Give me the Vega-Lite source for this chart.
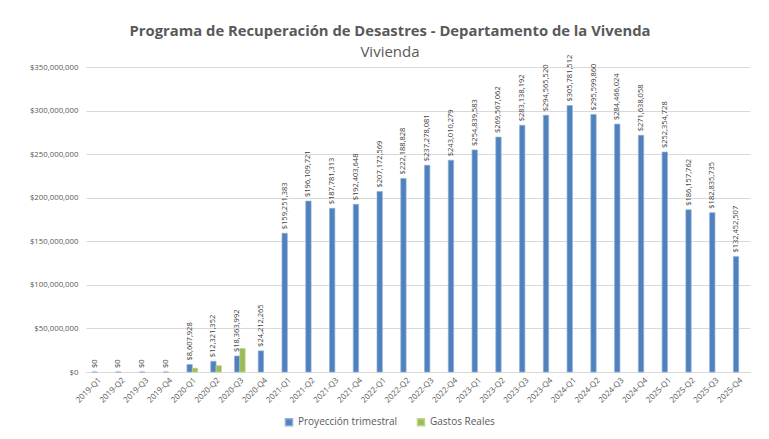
{
  "$schema": "https://vega.github.io/schema/vega-lite/v6.json",
  "width": 664,
  "height": 305,
  "autosize": {"type": "none"},
  "padding": {"left": 86, "top": 67, "right": 19, "bottom": 67},
  "background": "white",
  "title": {
    "text": "Programa de Recuperación de Desastres - Departamento de la Vivenda",
    "subtitle": "Vivienda",
    "anchor": "middle",
    "frame": "group",
    "dx": -28,
    "offset": -5,
    "font": "Open Sans",
    "fontSize": 14.8,
    "fontWeight": "bold",
    "color": "#595959",
    "subtitleFont": "Open Sans",
    "subtitleFontSize": 15,
    "subtitleColor": "#595959",
    "subtitlePadding": 6
  },
  "config": {
    "font": "Open Sans",
    "view": {"stroke": null},
    "axis": {"labelColor": "#595959", "labelFont": "Open Sans"}
  },
  "datasets": {
    "d": [
      {"q": "2019-Q1", "serie": "Proyección trimestral", "valor": 0},
      {"q": "2019-Q2", "serie": "Proyección trimestral", "valor": 0},
      {"q": "2019-Q3", "serie": "Proyección trimestral", "valor": 0},
      {"q": "2019-Q4", "serie": "Proyección trimestral", "valor": 0},
      {"q": "2020-Q1", "serie": "Proyección trimestral", "valor": 8607928},
      {"q": "2020-Q2", "serie": "Proyección trimestral", "valor": 12321352},
      {"q": "2020-Q3", "serie": "Proyección trimestral", "valor": 18363992},
      {"q": "2020-Q4", "serie": "Proyección trimestral", "valor": 24212265},
      {"q": "2021-Q1", "serie": "Proyección trimestral", "valor": 159251383},
      {"q": "2021-Q2", "serie": "Proyección trimestral", "valor": 196109721},
      {"q": "2021-Q3", "serie": "Proyección trimestral", "valor": 187781313},
      {"q": "2021-Q4", "serie": "Proyección trimestral", "valor": 192403648},
      {"q": "2022-Q1", "serie": "Proyección trimestral", "valor": 207172569},
      {"q": "2022-Q2", "serie": "Proyección trimestral", "valor": 222188828},
      {"q": "2022-Q3", "serie": "Proyección trimestral", "valor": 237278081},
      {"q": "2022-Q4", "serie": "Proyección trimestral", "valor": 243010279},
      {"q": "2023-Q1", "serie": "Proyección trimestral", "valor": 254839583},
      {"q": "2023-Q2", "serie": "Proyección trimestral", "valor": 269567062},
      {"q": "2023-Q3", "serie": "Proyección trimestral", "valor": 283138192},
      {"q": "2023-Q4", "serie": "Proyección trimestral", "valor": 294565520},
      {"q": "2024-Q1", "serie": "Proyección trimestral", "valor": 305781512},
      {"q": "2024-Q2", "serie": "Proyección trimestral", "valor": 295599860},
      {"q": "2024-Q3", "serie": "Proyección trimestral", "valor": 284466024},
      {"q": "2024-Q4", "serie": "Proyección trimestral", "valor": 271638058},
      {"q": "2025-Q1", "serie": "Proyección trimestral", "valor": 252354728},
      {"q": "2025-Q2", "serie": "Proyección trimestral", "valor": 186157762},
      {"q": "2025-Q3", "serie": "Proyección trimestral", "valor": 182835735},
      {"q": "2025-Q4", "serie": "Proyección trimestral", "valor": 132452507},
      {"q": "2020-Q1", "serie": "Gastos Reales", "valor": 4400000},
      {"q": "2020-Q2", "serie": "Gastos Reales", "valor": 7300000},
      {"q": "2020-Q3", "serie": "Gastos Reales", "valor": 27000000}
    ]
  },
  "data": {"name": "d"},
  "encoding": {
    "x": {
      "field": "q",
      "type": "nominal",
      "sort": null,
      "title": null,
      "scale": {"paddingInner": 0.55, "paddingOuter": 0.25},
      "axis": {
        "labelAngle": -45,
        "labelFontSize": 8,
        "ticks": false,
        "domainColor": "#d9d9d9",
        "labelPadding": 4
      }
    },
    "xOffset": {
      "field": "serie",
      "type": "nominal",
      "scale": {"domain": ["Proyección trimestral", "Gastos Reales"], "paddingInner": 0}
    },
    "y": {
      "field": "valor",
      "type": "quantitative",
      "title": null,
      "scale": {"domain": [0, 350000000]},
      "axis": {
        "values": [0, 50000000, 100000000, 150000000, 200000000, 250000000, 300000000, 350000000],
        "format": "$,.0f",
        "labelFontSize": 7.8,
        "ticks": false,
        "domain": false,
        "gridColor": "#d9d9d9",
        "labelPadding": 8
      }
    }
  },
  "layer": [
    {
      "mark": {"type": "bar", "strokeWidth": 0.7},
      "encoding": {
        "color": {
          "field": "serie",
          "type": "nominal",
          "scale": {"domain": ["Proyección trimestral", "Gastos Reales"], "range": ["#4F81BD", "#9BBB59"]},
          "legend": {
            "orient": "none",
            "legendX": 198,
            "legendY": 350,
            "direction": "horizontal",
            "title": null,
            "symbolType": "square",
            "symbolSize": 50,
            "labelFontSize": 10,
            "labelColor": "#595959",
            "columnPadding": 16
          }
        },
        "stroke": {
          "field": "serie",
          "type": "nominal",
          "scale": {"domain": ["Proyección trimestral", "Gastos Reales"], "range": ["#8FB0DA", "#BFD68F"]},
          "legend": null
        }
      }
    },
    {
      "transform": [{"filter": "datum.serie == 'Proyección trimestral'"}],
      "mark": {"type": "text", "angle": 270, "align": "left", "baseline": "middle", "dx": 4, "fontSize": 7.5, "color": "#404040"},
      "encoding": {
        "text": {"field": "valor", "type": "quantitative", "format": "$,.0f"}
      }
    }
  ]
}
